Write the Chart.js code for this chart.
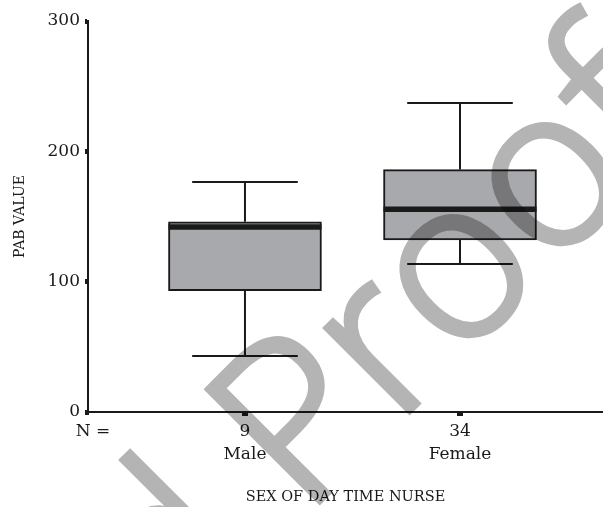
<!DOCTYPE html>
<html>
<head>
<meta charset="utf-8">
<script src="https://cdn.jsdelivr.net/npm/chart.js@4"></script>
<style>
  html, body { margin: 0; padding: 0; background: #fff; }
</style>
</head>
<body>
<canvas id="chart" width="603" height="507"></canvas>
<script>
// --- data ---
const groups = ['Male', 'Female'];
const counts = [9, 34];
const groupPos = [1, 2];
const whiskerLow = [43, 113.5];
const q1 = [93, 132];
const median = [142, 155.5];
const q3 = [146, 186];
const whiskerHigh = [176.5, 237];
const yTicks = [0, 100, 200, 300];

const serif = "'DejaVu Serif', serif";
const ink = '#1a1a1a';

// whiskers + median drawn on top of the bars, through the chart's scales
const boxParts = {
    id: 'boxParts',
    afterDatasetsDraw(chart) {
        const { ctx, scales: { x, y } } = chart;
        const bars = chart.getDatasetMeta(0).data;
        ctx.save();
        ctx.strokeStyle = ink;
        groupPos.forEach((pos, i) => {
            const cx = x.getPixelForValue(pos);
            const half = bars[i].width / 2;
            const cap = half * 0.69;
            const yHi = y.getPixelForValue(whiskerHigh[i]);
            const yLo = y.getPixelForValue(whiskerLow[i]);

            ctx.lineWidth = 2;
            ctx.beginPath();
            ctx.moveTo(cx, y.getPixelForValue(q3[i]));
            ctx.lineTo(cx, yHi);
            ctx.moveTo(cx, y.getPixelForValue(q1[i]));
            ctx.lineTo(cx, yLo);
            ctx.moveTo(cx - cap, yHi);
            ctx.lineTo(cx + cap, yHi);
            ctx.moveTo(cx - cap, yLo);
            ctx.lineTo(cx + cap, yLo);
            ctx.stroke();

            // median
            const ym = y.getPixelForValue(median[i]);
            ctx.lineWidth = 5.5;
            ctx.beginPath();
            ctx.moveTo(cx - half, ym);
            ctx.lineTo(cx + half, ym);
            ctx.stroke();
        });
        ctx.restore();
    }
};

// the grey "proof" stamp: drawn on its own layer, then multiplied over the chart
const stamp = {
    id: 'stamp',
    afterDraw(chart) {
        const layer = document.createElement('canvas');
        layer.width = chart.width;
        layer.height = chart.height;
        const lc = layer.getContext('2d');
        lc.fillStyle = lc.strokeStyle = '#b4b4b4';
        lc.lineWidth = 6;
        lc.lineJoin = 'miter';
        lc.font = "300 222px 'Open Sans', sans-serif";
        lc.translate(549, 272);
        lc.rotate(-Math.PI / 4);
        const parts = [['right', 'Uncorrected Pro'], ['left', 'of']];
        parts.forEach(([align, txt]) => {
            lc.textAlign = align;
            lc.fillText(txt, 0, 0);
            lc.strokeText(txt, 0, 0);
        });

        const ctx = chart.ctx;
        ctx.save();
        ctx.globalCompositeOperation = 'multiply';
        ctx.drawImage(layer, 0, 0);
        ctx.restore();
    }
};

const ctx = document.getElementById('chart').getContext('2d');
new Chart(ctx, {
    type: 'bar',
    data: {
        datasets: [{
            data: groupPos.map((pos, i) => ({ x: pos, y: [q1[i], q3[i]] })),
            backgroundColor: '#a8a9ac',
            borderColor: ink,
            borderWidth: 2,
            borderSkipped: false,
            barThickness: 153
        }]
    },
    options: {
        responsive: false,
        animation: false,
        layout: { padding: { top: 21, right: 0, bottom: 0, left: 0 } },
        plugins: {
            legend: { display: false },
            tooltip: { enabled: false }
        },
        scales: {
            x: {
                type: 'linear',
                min: 0.27,
                max: 2.665,
                offset: false,
                afterBuildTicks: (scale) => {
                    scale.ticks = [{ value: 0.293 }].concat(groupPos.map(v => ({ value: v })));
                },
                afterFit: (scale) => { scale.height = 95; },
                grid: {
                    offset: false,
                    drawOnChartArea: false,
                    tickLength: 4,
                    lineWidth: 6,
                    color: (c) => c.index === 0 ? 'rgba(0,0,0,0)' : ink
                },
                border: { color: ink, width: 2 },
                ticks: {
                    autoSkip: false,
                    maxRotation: 0,
                    padding: 4,
                    color: ink,
                    font: { family: serif, size: 17, lineHeight: 1.35 },
                    callback: (v, i) => i === 0 ? ['N ='] : [String(counts[i - 1]), groups[i - 1]]
                },
                title: {
                    display: true,
                    text: 'SEX OF DAY TIME NURSE',
                    color: ink,
                    font: { family: serif, size: 14.5 },
                    padding: { top: 0, bottom: 1 }
                }
            },
            y: {
                min: 0,
                max: 300,
                afterBuildTicks: (scale) => {
                    scale.ticks = yTicks.map(v => ({ value: v }));
                },
                afterFit: (scale) => { scale.width = 88; },
                grid: {
                    drawOnChartArea: false,
                    tickLength: 3,
                    lineWidth: 5,
                    color: ink
                },
                border: { color: ink, width: 2 },
                ticks: {
                    padding: 5,
                    color: ink,
                    font: { family: serif, size: 17 }
                },
                title: {
                    display: true,
                    text: 'PAB VALUE',
                    color: ink,
                    font: { family: serif, size: 14 },
                    padding: { top: 12, bottom: 0 }
                }
            }
        }
    },
    plugins: [boxParts, stamp]
});
</script>
</body>
</html>
